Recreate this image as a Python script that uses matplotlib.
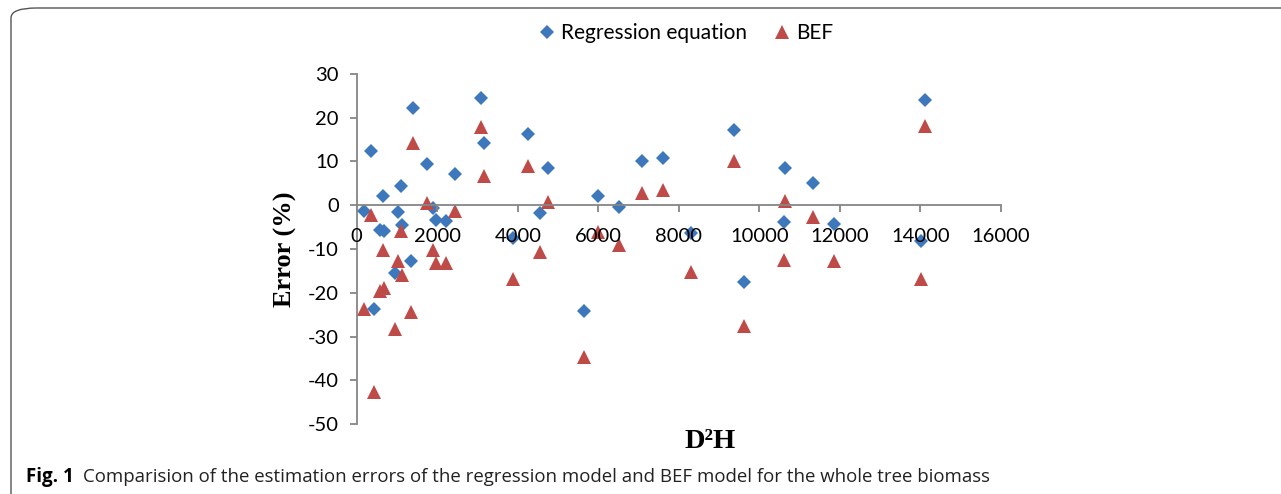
import matplotlib
matplotlib.use("Agg")
import matplotlib.pyplot as plt
from matplotlib.patches import FancyBboxPatch

# D2H of each tree and the estimation errors (%) of the two models
d2h = [190, 350, 420, 590, 650, 670, 960, 1017, 1092, 1117, 1350, 1405, 1752,
       1901, 1968, 2216, 2447, 3085, 3151, 3886, 4258, 4548, 4754, 5640, 5995,
       6520, 7087, 7618, 8295, 9370, 9618, 10636, 10603, 11340, 11851, 14002, 14110]
reg_err = [-1.3, 12.3, -23.7, -5.6, 2.2, -5.8, -15.4, -1.6, 4.3, -4.5, -12.8, 22.2, 9.4,
           -0.7, -3.3, -3.5, 7.2, 24.6, 14.2, -7.5, 16.3, -1.8, 8.6, -24.1, 2.2,
           -0.4, 10.2, 10.9, -6.4, 17.1, -17.6, 8.6, -3.9, 5.1, -4.2, -8.1, 24.1]
bef_err = [-23.7, -2.2, -42.6, -19.5, -10.2, -18.9, -28.2, -12.8, -5.8, -15.9, -24.3, 14.2, 0.5,
           -10.2, -13.2, -13.2, -1.4, 17.9, 6.6, -16.9, 9.0, -10.6, 0.7, -34.6, -6.2,
           -9.0, 2.8, 3.5, -15.3, 10.2, -27.5, 1.0, -12.5, -2.6, -12.8, -16.8, 18.0]

xticks = [0, 2000, 4000, 6000, 8000, 10000, 12000, 14000, 16000]
yticks = [30, 20, 10, 0, -10, -20, -30, -40, -50]

plt.rcParams['font.family'] = 'Lato'
plt.rcParams['axes.unicode_minus'] = False
W, H = 1281, 494
fig = plt.figure(figsize=(W / 100, H / 100), dpi=100)

frame = FancyBboxPatch((11 / W, -0.1), 1.2, 1 - 8 / H + 0.1,
                       boxstyle="round,pad=0,rounding_size=0.02",
                       transform=fig.transFigure, fill=False,
                       edgecolor='#555555', linewidth=1.0)
fig.patches.append(frame)

ax = fig.add_axes([356.7 / W, 1 - 424 / H, (1001 - 356.7) / W, 350 / H])
ax.plot(d2h, reg_err, 'D', color='#3E78BC', markersize=7, markeredgewidth=0,
        label='Regression equation')
ax.plot(d2h, bef_err, '^', color='#BF4B48', markersize=10, markeredgewidth=0,
        label='BEF')

ax.set_xlim(0, 16000)
ax.set_ylim(-50, 30)
ax.set_xticks(xticks)
ax.set_yticks(yticks)
ax.spines['top'].set_visible(False)
ax.spines['right'].set_visible(False)
ax.spines['bottom'].set_position(('data', 0))
for s in ('left', 'bottom'):
    ax.spines[s].set_color('#868686')
    ax.spines[s].set_linewidth(1.3)
ax.tick_params(axis='both', colors='#868686', labelcolor='black', labelsize=14.5,
               length=5, width=1.3, pad=8, direction='out')
ax.tick_params(axis='x', pad=11.5)
ax.set_axisbelow(False)

ax.legend(loc='center', bbox_to_anchor=(686 / W, 1 - 33 / H),
          bbox_transform=fig.transFigure, ncol=2, frameon=False, fontsize=15,
          handlelength=0.8, handletextpad=0.25, columnspacing=1.3,
          borderpad=0, borderaxespad=0)

fig.text(285 / W, 1 - 249 / H, 'Error (%)', rotation=90, ha='center', va='center',
         fontsize=19, fontweight='bold', family='Liberation Serif')
fig.text(710 / W, 1 - 441 / H, 'D\u00b2H', ha='center', va='center',
         fontsize=20.5, fontweight='bold', family='Liberation Serif')

fig.text(26 / W, 1 - 477 / H, 'Fig. 1', ha='left', va='center', fontsize=13.5,
         fontweight='bold', family='Open Sans')
fig.text(83 / W, 1 - 477 / H,
         'Comparision of the estimation errors of the regression model and BEF model for the whole tree biomass',
         ha='left', va='center', fontsize=13.4, family='Open Sans', color='#222222')

fig.savefig('out.png', dpi=100)
